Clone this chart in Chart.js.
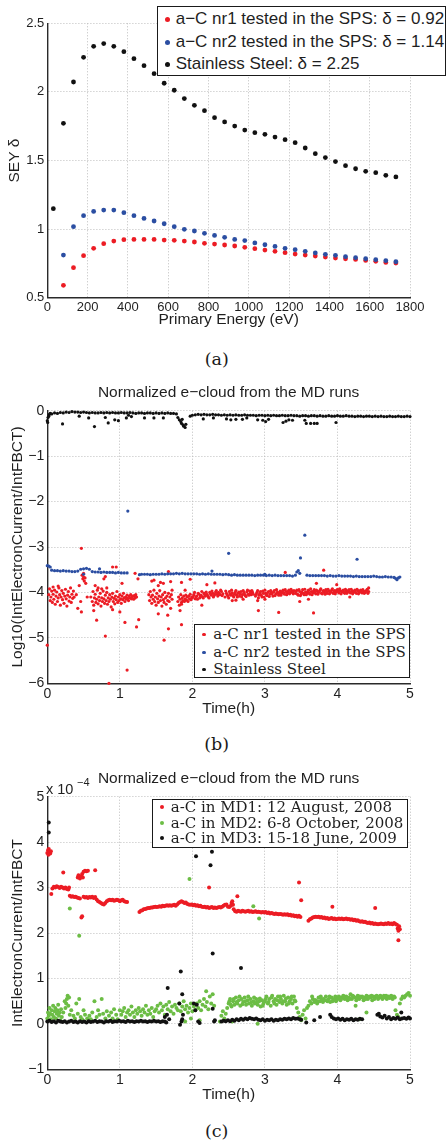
<!DOCTYPE html>
<html><head><meta charset="utf-8">
<script src="https://cdn.jsdelivr.net/npm/chart.js@4"></script>
<style>
html,body{margin:0;padding:0;background:#fff;}
body{width:446px;height:1144px;overflow:hidden;position:relative;font-family:"Liberation Sans",Arial,sans-serif;color:#1a1a1a;}
canvas{position:absolute;left:0;}
.box{position:absolute;background:#fff;border:1.5px solid #1a1a1a;box-sizing:border-box;}
.row{position:absolute;white-space:nowrap;}
.dot{position:absolute;border-radius:50%;}
.cap{position:absolute;font-family:"DejaVu Serif",serif;font-size:17.5px;line-height:17.5px;transform:translate(-50%,-50%);white-space:nowrap;}
</style></head><body>
<canvas id="ca" width="446" height="340" style="top:0px"></canvas>
<canvas id="cb" width="446" height="355" style="top:370px"></canvas>
<canvas id="cc" width="446" height="355" style="top:755px"></canvas>
<script>
// ---------- Panel (a): SEY vs primary energy ----------
const aEnergy=[30,80,130,180,230,280,330,380,430,480,530,580,630,680,730,780,830,880,930,980,1030,1080,1130,1180,1230,1280,1330,1380,1430,1480,1530,1580,1630,1680,1730];
const aNr1=[null,0.590,0.719,0.806,0.860,0.894,0.913,0.923,0.925,0.925,0.925,0.920,0.918,0.913,0.906,0.896,0.891,0.884,0.877,0.867,0.857,0.847,0.838,0.828,0.818,0.811,0.804,0.796,0.789,0.784,0.779,0.772,0.765,0.757,0.753];
const aNr2=[null,0.811,1.018,1.098,1.129,1.139,1.139,1.120,1.098,1.078,1.059,1.039,1.018,0.998,0.986,0.969,0.954,0.940,0.925,0.916,0.899,0.886,0.874,0.860,0.850,0.838,0.826,0.816,0.809,0.799,0.792,0.784,0.777,0.770,0.762];
const aSS=[1.149,1.771,2.072,2.252,2.332,2.352,2.332,2.293,2.242,2.191,2.133,2.063,2.012,1.951,1.902,1.863,1.812,1.781,1.751,1.722,1.703,1.691,1.671,1.652,1.630,1.591,1.550,1.521,1.492,1.462,1.440,1.421,1.411,1.392,1.380];
const aLabels=['a\u2212C nr1 tested in the SPS: \u03b4 = 0.92','a\u2212C nr2 tested in the SPS: \u03b4 = 1.14','Stainless Steel: \u03b4 = 2.25'];
const aXTicks=[0,200,400,600,800,1000,1200,1400,1600,1800];
const aXTickLabels=['0','200','400','600','800','1000','1200','1400','1600','1800'];
const aYTicks=[0.5,1,1.5,2,2.5];
const aYTickLabels=['0.5','1','1.5','2','2.5'];

// ---------- Panel (b): log10 normalized e-cloud ----------
const bRed=[[0.0,-5.16],[0.02,-4.05],[0.03,-3.92],[0.04,-4.18],[0.05,-4.1],[0.06,-3.97],[0.07,-4.22],[0.08,-4.04],[0.08,-3.88],[0.09,-4.15],[0.10,-3.95],[0.11,-4.26],[0.12,-4.08],[0.13,-3.99],[0.14,-4.2],[0.15,-4.12],[0.15,-3.86],[0.16,-3.9],[0.17,-4.05],[0.18,-4.28],[0.19,-4.1],[0.20,-3.96],[0.21,-4.16],[0.22,-4.02],[0.23,-4.24],[0.24,-4.08],[0.25,-3.93],[0.26,-4.14],[0.27,-4.3],[0.28,-4.06],[0.29,-3.98],[0.30,-4.19],[0.31,-4.1],[0.32,-3.9],[0.33,-4.22],[0.34,-4.04],[0.35,-4.13],[0.36,-3.97],[0.37,-4.1],
[0.40,-4.05],[0.42,-4.35],[0.44,-3.85],[0.46,-4.2],[0.47,-3.03],[0.47,-4.43],[0.48,-3.62],[0.49,-3.7],[0.50,-3.66],[0.51,-3.75],[0.50,-3.58],[0.52,-3.68],[0.53,-3.8],[0.55,-4.1],
[0.60,-4.1],[0.62,-4.2],[0.63,-3.98],[0.64,-4.28],[0.64,-4.4],[0.65,-4.12],[0.66,-4.04],[0.66,-3.85],[0.67,-4.22],[0.68,-4.15],[0.68,-4.61],[0.69,-3.95],[0.70,-4.25],[0.70,-3.9],[0.71,-4.1],[0.72,-4.18],[0.73,-4.02],[0.74,-4.3],[0.75,-4.12],[0.75,-3.92],[0.76,-4.2],[0.77,-3.97],[0.78,-4.14],[0.78,-3.7],[0.79,-4.24],[0.80,-4.06],[0.80,-3.65],[0.80,-4.96],[0.81,-4.18],[0.82,-4.0],[0.82,-3.9],[0.83,-4.26],[0.84,-4.12],[0.85,-4.2],[0.85,-6.0],[0.86,-4.05],[0.87,-4.15],[0.88,-4.32],[0.89,-4.1],[0.90,-4.02],[0.90,-3.44],[0.90,-4.38],[0.91,-4.2],[0.92,-4.13],[0.93,-4.25],[0.94,-4.08],[0.95,-4.16],[0.95,-3.44],[0.96,-3.98],[0.97,-4.22],[0.98,-4.1],[0.99,-4.18],[1.00,-4.05],[1.00,-4.43],[1.01,-4.14],[1.02,-4.24],[1.03,-4.08],[1.03,-3.8],[1.04,-4.16],[1.05,-4.02],[1.06,-4.12],[1.07,-4.2],[1.07,-4.66],[1.08,-4.1],[1.09,-4.15],[1.10,-4.06],[1.10,-5.71],[1.11,-4.13],[1.12,-4.18],[1.13,-4.08],[1.14,-4.12],[1.15,-4.05],[1.16,-4.14],[1.17,-4.1],[1.18,-4.08],[1.19,-4.15],[1.20,-4.07],[1.21,-4.12],[1.21,-3.58],[1.22,-4.05],[1.23,-4.1],[1.23,-4.76],[1.25,-3.7],[1.26,-4.6],
[1.40,-4.05],[1.41,-4.18],[1.42,-3.98],[1.43,-4.1],[1.44,-4.24],[1.44,-3.75],[1.45,-4.06],[1.46,-4.15],[1.47,-3.95],[1.47,-3.73],[1.48,-4.2],[1.49,-4.1],[1.50,-4.28],[1.51,-4.02],[1.52,-4.14],[1.53,-4.22],[1.53,-3.85],[1.53,-4.47],[1.54,-4.08],[1.55,-3.96],[1.56,-4.18],[1.56,-3.78],[1.57,-4.1],[1.58,-4.3],[1.59,-4.05],[1.60,-4.16],[1.60,-3.8],[1.61,-4.22],[1.61,-5.05],[1.62,-4.0],[1.63,-4.12],[1.64,-4.26],[1.65,-4.08],[1.66,-4.18],[1.66,-4.5],[1.67,-4.02],[1.67,-3.54],[1.67,-4.8],[1.68,-4.2],[1.69,-4.1],[1.70,-4.35],[1.70,-3.76],[1.71,-4.05],[1.72,-4.15],[1.72,-3.95],
[1.80,-4.2],[1.81,-4.1],[1.82,-4.28],[1.83,-4.15],[1.83,-4.4],[1.84,-4.05],[1.85,-4.22],[1.85,-3.78],[1.85,-4.71],[1.85,-4.26],[1.86,-4.12],[1.87,-4.18],[1.88,-4.08],[1.89,-4.2],[1.90,-4.14],[1.90,-3.95],[1.91,-4.06],[1.92,-4.17],[1.93,-4.1],[1.94,-4.2],[1.95,-4.08],[1.96,-4.14],[1.97,-4.04],[1.97,-3.71],[1.98,-4.16],[1.99,-4.1],[2.00,-4.12],[2.02,-4.05],[2.04,-4.14],[2.06,-4.08],[2.08,-4.02],[2.10,-4.12],[2.12,-4.06],[2.13,-4.28],[2.14,-4.1],[2.16,-4.02],[2.18,-4.08],[2.20,-4.04],[2.20,-3.83],[2.22,-4.1],[2.24,-4.0],[2.26,-4.06],[2.28,-4.02],[2.30,-4.07],[2.31,-3.79],[2.32,-3.99],[2.34,-4.04],[2.36,-4.0],[2.38,-4.05],[2.40,-3.98],[2.42,-4.03],
[2.01,-4.09],[2.03,-4.0],[2.05,-4.1],[2.07,-4.15],[2.09,-4.04],[2.11,-4.08],[2.13,-3.98],[2.15,-4.12],[2.17,-4.05],[2.19,-3.99],[2.21,-4.07],[2.23,-4.12],[2.25,-4.03],[2.27,-3.97],[2.29,-4.1],[2.31,-4.04],[2.33,-3.96],[2.35,-4.08],[2.37,-4.03],[2.39,-3.95],[2.41,-4.07],
[2.45,-4.1],[2.47,-4.02],[2.49,-4.08],[2.51,-3.98],[2.53,-4.06],[2.55,-4.01],[2.55,-4.18],[2.57,-4.1],[2.59,-4.0],[2.60,-4.17],[2.61,-4.06],[2.63,-4.02],[2.65,-4.08],[2.67,-3.98],[2.69,-4.05],[2.70,-4.15],[2.71,-4.0],[2.73,-4.07],[2.75,-3.99],[2.77,-4.04],[2.79,-3.97],[2.81,-4.05],[2.83,-4.0],
[2.46,-3.97],[2.48,-4.05],[2.50,-4.12],[2.52,-4.03],[2.54,-3.95],[2.56,-4.07],[2.58,-4.04],[2.60,-3.96],[2.62,-4.1],[2.64,-3.99],[2.66,-4.03],[2.68,-4.1],[2.70,-3.96],[2.72,-4.04],[2.74,-4.09],[2.76,-3.95],[2.78,-4.06],[2.80,-4.01],[2.82,-3.96],[2.84,-4.04],
[2.87,-4.08],[2.89,-4.0],[2.90,-4.18],[2.91,-4.12],[2.91,-4.4],[2.93,-4.02],[2.95,-4.06],[2.97,-3.97],[2.99,-4.1],[3.00,-4.15],[3.01,-4.02],[3.03,-4.07],[3.05,-3.98],[3.07,-4.04],[3.09,-4.0],[3.11,-4.08],[3.13,-3.96],[3.15,-4.03],[3.17,-4.0],[3.19,-4.06],[3.19,-4.44],[3.21,-3.97],[3.23,-4.02],[3.25,-3.95],[3.27,-4.04],[3.28,-3.56],[3.29,-3.98],[3.31,-4.02],[3.33,-3.95],[3.35,-4.0],[3.37,-3.97],[3.39,-4.03],
[2.88,-4.04],[2.90,-3.96],[2.92,-4.06],[2.94,-3.98],[2.96,-4.1],[2.98,-4.02],[3.00,-3.95],[3.02,-4.05],[3.04,-4.0],[3.06,-4.09],[3.08,-3.96],[3.10,-4.03],[3.12,-3.99],[3.14,-4.07],[3.16,-3.94],[3.18,-4.02],[3.20,-4.0],[3.22,-4.06],[3.24,-3.98],[3.26,-4.01],[3.28,-3.94],[3.30,-4.05],[3.32,-3.98],[3.34,-4.03],[3.36,-3.93],[3.38,-4.0],[3.40,-3.96],
[3.42,-4.02],[3.44,-3.95],[3.46,-4.06],[3.48,-3.98],[3.48,-4.2],[3.50,-4.03],[3.52,-3.94],[3.54,-4.05],[3.56,-3.99],[3.58,-4.02],[3.60,-3.95],[3.60,-4.15],[3.62,-4.04],[3.64,-3.98],[3.66,-4.01],[3.67,-4.45],[3.68,-3.94],[3.70,-4.03],[3.71,-3.8],[3.72,-3.97],[3.74,-4.0],[3.76,-3.95],[3.78,-4.02],[3.80,-3.97],[3.81,-3.51],[3.82,-4.0],[3.84,-3.94],[3.86,-4.02],[3.88,-3.97],[3.90,-3.99],[3.92,-3.95],[3.94,-4.02],[3.96,-3.96],[3.98,-3.99],[3.99,-3.83],[4.00,-3.94],[4.02,-4.01],[4.04,-3.96],[4.06,-3.99],[4.08,-3.95],[4.10,-4.02],[4.12,-3.97],[4.14,-3.99],[4.16,-3.94],[4.17,-4.1],[4.18,-4.01],[4.20,-3.97],[4.22,-3.99],[4.24,-3.95],[4.26,-4.02],[4.28,-3.96],[4.30,-4.0],[4.32,-3.95],[4.34,-4.01],[4.36,-3.97],[4.38,-4.0],[4.40,-3.96],[4.42,-4.02],[4.43,-3.98],[4.43,-3.9],
[3.43,-3.98],[3.45,-4.04],[3.47,-3.94],[3.49,-4.07],[3.51,-3.99],[3.53,-4.02],[3.55,-3.93],[3.57,-4.05],[3.59,-3.98],[3.61,-4.01],[3.63,-3.92],[3.65,-4.05],[3.67,-3.97],[3.69,-4.0],[3.71,-3.95],[3.73,-4.04],[3.75,-3.98],[3.77,-3.92],[3.79,-4.03],[3.81,-3.96],[3.83,-4.04],[3.85,-3.98],[3.87,-3.93],[3.89,-4.03],[3.91,-3.99],[3.93,-3.92],[3.95,-4.0],[3.97,-4.03],[3.99,-3.95],[4.01,-3.98],[4.03,-3.92],[4.05,-4.03],[4.07,-3.97],[4.09,-4.0],[4.11,-3.93],[4.13,-4.02],[4.15,-3.96],[4.17,-3.99],[4.19,-3.93],[4.21,-4.03],[4.23,-3.97],[4.25,-4.0],[4.27,-3.93],[4.29,-4.03],[4.31,-3.97],[4.33,-3.99],[4.35,-3.94],[4.37,-4.02],[4.39,-3.98],[4.41,-3.93]];
const bBlue=[[0.0,-3.41],[0.02,-3.42],[0.04,-3.44],[0.06,-3.51],[0.10,-3.52],[0.14,-3.52],[0.18,-3.53],[0.22,-3.52],[0.26,-3.53],[0.30,-3.53],[0.34,-3.54],[0.38,-3.54],[0.42,-3.53],[0.46,-3.49],[0.50,-3.48],[0.50,-3.6],[0.54,-3.47],[0.58,-3.49],[0.62,-3.54],[0.66,-3.55],[0.70,-3.55],[0.72,-3.48],[0.74,-3.56],[0.78,-3.55],[0.82,-3.56],[0.86,-3.56],[0.90,-3.56],[0.94,-3.57],[0.98,-3.56],[1.02,-3.57],[1.06,-3.57],[1.10,-3.57],[1.11,-2.21],
[1.27,-3.61],[1.30,-3.60],[1.34,-3.60],[1.38,-3.60],[1.42,-3.61],[1.46,-3.60],[1.50,-3.60],[1.54,-3.60],[1.58,-3.59],[1.62,-3.60],[1.66,-3.59],[1.70,-3.59],[1.74,-3.59],[1.78,-3.58],[1.82,-3.59],[1.86,-3.58],[1.90,-3.59],[1.94,-3.59],[1.98,-3.59],[2.02,-3.59],[2.06,-3.59],[2.10,-3.60],[2.14,-3.59],[2.18,-3.60],[2.22,-3.59],[2.26,-3.60],[2.27,-3.53],[2.30,-3.60],[2.34,-3.60],[2.38,-3.60],[2.42,-3.61],[2.46,-3.60],[2.50,-3.61],[2.50,-3.14],[2.54,-3.62],[2.58,-3.61],[2.62,-3.62],[2.66,-3.62],[2.70,-3.62],[2.74,-3.62],[2.78,-3.62],[2.82,-3.62],[2.86,-3.63],[2.90,-3.62],[2.94,-3.62],[2.98,-3.62],[3.00,-3.6],[3.02,-3.63],[3.06,-3.62],[3.10,-3.63],[3.14,-3.62],[3.18,-3.63],[3.22,-3.63],[3.26,-3.63],[3.30,-3.63],[3.34,-3.63],[3.38,-3.64],[3.42,-3.62],[3.44,-3.55],[3.46,-3.52],[3.48,-3.58],[3.49,-3.24],[3.55,-2.74],
[3.58,-3.62],[3.62,-3.63],[3.66,-3.63],[3.70,-3.63],[3.74,-3.63],[3.78,-3.63],[3.82,-3.63],[3.86,-3.64],[3.90,-3.63],[3.94,-3.64],[3.98,-3.64],[4.02,-3.63],[4.06,-3.64],[4.10,-3.64],[4.14,-3.64],[4.18,-3.64],[4.22,-3.65],[4.26,-3.64],[4.27,-3.27],[4.30,-3.65],[4.34,-3.65],[4.38,-3.65],[4.42,-3.65],[4.46,-3.65],[4.50,-3.64],[4.54,-3.65],[4.58,-3.66],[4.62,-3.66],[4.66,-3.65],[4.70,-3.66],[4.74,-3.66],[4.78,-3.67],[4.80,-3.69],[4.82,-3.72],[4.84,-3.68],[4.86,-3.66]];
const bBlack=[[0.0,-0.22],[0.005,-0.26],[0.01,-0.15],[0.02,-0.12],[0.03,-0.08],[0.04,-0.06],[0.06,-0.07],[0.10,-0.05],[0.14,-0.06],[0.18,-0.04],[0.21,-0.29],[0.22,-0.05],[0.26,-0.03],[0.30,-0.04],[0.34,-0.02],[0.38,-0.03],[0.42,-0.03],[0.44,-0.12],[0.46,-0.04],[0.50,-0.03],[0.54,-0.04],[0.57,-0.16],[0.58,-0.05],[0.62,-0.04],[0.65,-0.35],[0.66,-0.05],[0.70,-0.05],[0.74,-0.04],[0.78,-0.05],[0.80,-0.15],[0.82,-0.04],[0.84,-0.27],[0.86,-0.05],[0.90,-0.04],[0.93,-0.2],[0.94,-0.05],[0.98,-0.05],[0.98,-0.22],[1.02,-0.04],[1.06,-0.05],[1.09,-0.16],[1.10,-0.05],[1.12,-0.1],[1.14,-0.04],[1.16,-0.13],[1.18,-0.05],[1.22,-0.06],[1.26,-0.05],[1.30,-0.05],[1.34,-0.06],[1.34,-0.16],[1.38,-0.05],[1.42,-0.05],[1.46,-0.06],[1.47,-0.16],[1.50,-0.05],[1.54,-0.06],[1.58,-0.05],[1.60,-0.16],[1.62,-0.06],[1.66,-0.05],[1.70,-0.06],[1.74,-0.06],[1.78,-0.07],[1.80,-0.15],[1.82,-0.2],[1.84,-0.24],[1.85,-0.28],[1.86,-0.19],[1.87,-0.31],[1.88,-0.34],[1.90,-0.37],[1.91,-0.3],
[1.97,-0.12],[2.00,-0.1],[2.04,-0.09],[2.08,-0.08],[2.12,-0.09],[2.15,-0.18],[2.16,-0.08],[2.20,-0.09],[2.24,-0.09],[2.28,-0.08],[2.29,-0.16],[2.32,-0.09],[2.36,-0.09],[2.40,-0.1],[2.44,-0.09],[2.47,-0.18],[2.48,-0.1],[2.52,-0.09],[2.53,-0.2],[2.56,-0.1],[2.60,-0.09],[2.60,-0.19],[2.64,-0.1],[2.68,-0.1],[2.69,-0.19],[2.72,-0.09],[2.75,-0.16],[2.76,-0.1],[2.80,-0.1],[2.84,-0.1],[2.88,-0.11],[2.90,-0.2],[2.92,-0.1],[2.96,-0.1],[2.97,-0.21],[3.00,-0.11],[3.01,-0.24],[3.04,-0.1],[3.05,-0.19],[3.08,-0.11],[3.12,-0.1],[3.16,-0.11],[3.20,-0.11],[3.24,-0.1],[3.25,-0.26],[3.28,-0.11],[3.29,-0.23],[3.32,-0.11],[3.33,-0.2],[3.36,-0.1],[3.38,-0.21],[3.40,-0.11],[3.44,-0.11],[3.48,-0.12],[3.52,-0.11],[3.55,-0.21],[3.56,-0.11],[3.57,-0.28],[3.60,-0.12],[3.63,-0.28],[3.64,-0.11],[3.68,-0.11],[3.68,-0.28],[3.72,-0.12],[3.72,-0.28],[3.76,-0.11],[3.80,-0.12],[3.84,-0.12],[3.88,-0.11],[3.92,-0.12],[3.96,-0.12],[3.98,-0.26],[4.00,-0.11],[4.04,-0.12],[4.08,-0.12],[4.12,-0.11],[4.16,-0.12],[4.20,-0.12],[4.24,-0.13],[4.28,-0.12],[4.32,-0.12],[4.36,-0.13],[4.40,-0.12],[4.44,-0.12],[4.48,-0.13],[4.52,-0.12],[4.56,-0.13],[4.60,-0.12],[4.64,-0.13],[4.68,-0.13],[4.72,-0.12],[4.76,-0.13],[4.80,-0.13],[4.84,-0.12],[4.88,-0.13],[4.92,-0.13],[4.96,-0.12],[5.00,-0.13]];
const bLabels=['a-C nr1 tested in the SPS','a-C nr2 tested in the SPS','Stainless Steel'];
const bXTicks=[0,1,2,3,4,5];
const bXTickLabels=['0','1','2','3','4','5'];
const bYTicks=[-6,-5,-4,-3,-2,-1,0];
const bYTickLabels=['\u22126','\u22125','\u22124','\u22123','\u22122','\u22121','0'];

// ---------- Panel (c): normalized e-cloud (x 1e-4) ----------
const cRed=[[0.0,3.76],[0.01,3.82],[0.015,3.72],[0.02,3.85],[0.03,3.78],[0.04,3.75],[0.05,3.8],[0.055,2.86],[0.07,2.98],[0.09,3.02],[0.11,3.0],[0.13,3.03],[0.15,3.01],[0.17,2.99],[0.19,3.02],[0.21,3.0],[0.22,3.33],[0.23,2.98],[0.25,3.0],[0.27,2.97],[0.29,2.96],[0.30,3.0],[0.31,2.82],[0.33,2.8],[0.35,2.81],[0.37,2.79],[0.39,2.8],[0.41,2.78],[0.43,2.77],[0.45,2.76],
[0.42,3.22],[0.43,3.27],[0.44,3.24],[0.45,3.2],[0.47,3.25],[0.48,3.3],[0.49,3.22],[0.50,3.35],[0.52,3.37],[0.54,3.36],[0.56,3.37],[0.66,3.38],[0.47,2.34],[0.48,2.37],
[0.50,2.8],[0.52,2.78],[0.54,2.79],[0.56,2.77],[0.58,2.79],[0.60,2.78],[0.62,2.8],[0.64,2.77],[0.66,2.79],[0.68,2.74],[0.70,2.7],[0.72,2.68],[0.74,2.66],[0.76,2.64],[0.78,2.63],[0.80,2.66],[0.82,2.7],[0.84,2.72],[0.86,2.73],[0.88,2.72],[0.90,2.73],[0.92,2.71],[0.94,2.72],[0.96,2.73],[0.98,2.72],[1.00,2.7],[1.02,2.72],[1.04,2.73],[1.06,2.7],[1.08,2.69],[1.10,2.68],
[1.27,2.46],[1.29,2.49],[1.31,2.5],[1.33,2.52],[1.35,2.53],[1.37,2.54],[1.39,2.55],[1.41,2.55],[1.43,2.56],[1.45,2.56],[1.47,2.57],[1.49,2.58],[1.51,2.57],[1.53,2.58],[1.55,2.59],[1.57,2.58],[1.59,2.6],[1.61,2.59],[1.63,2.6],[1.65,2.61],[1.67,2.6],[1.69,2.61],[1.71,2.6],[1.73,2.61],[1.75,2.62],[1.77,2.6],[1.79,2.63],[1.81,2.66],[1.83,2.68],[1.85,2.7],[1.87,2.68],[1.89,2.66],[1.91,2.67],[1.93,2.64],[1.95,2.63],[1.97,2.62],[1.99,2.63],[2.01,2.61],[2.03,2.62],[2.05,2.6],[2.07,2.61],[2.09,2.59],[2.11,2.6],[2.13,2.58],[2.15,2.57],[2.17,2.58],[2.19,2.56],[2.21,2.57],[2.23,2.55],[2.23,3.0],[2.25,2.56],[2.27,2.57],[2.29,2.55],[2.31,2.56],[2.33,2.55],[2.35,2.56],[2.37,2.57],[2.39,2.56],[2.41,2.58],[2.43,2.6],[2.45,2.62],[2.47,2.63],[2.49,2.58],[2.51,2.57],[2.53,2.6],[2.54,2.66],[2.55,2.7],[2.56,2.62],[2.57,2.52],[2.59,2.48],[2.61,2.47],[2.62,2.81],[2.63,2.49],[2.65,2.48],[2.67,2.47],[2.69,2.49],[2.71,2.48],[2.73,2.47],[2.75,2.48],[2.77,2.49],[2.79,2.47],[2.81,2.48],[2.83,2.46],[2.85,2.47],[2.87,2.48],[2.89,2.46],[2.91,2.47],[2.93,2.46],[2.95,2.45],[2.97,2.46],[2.99,2.45],[3.01,2.46],[3.03,2.44],[3.05,2.45],[3.07,2.43],[3.09,2.44],[3.11,2.43],[3.13,2.42],[3.15,2.43],[3.17,2.42],[3.19,2.41],[3.21,2.42],[3.23,2.41],[3.25,2.4],[3.27,2.41],[3.29,2.4],[3.31,2.41],[3.33,2.39],[3.35,2.4],[3.37,2.38],[3.39,2.39],[3.41,2.37],[3.43,2.38],[3.45,2.36],[3.47,2.38],[3.47,3.11],[3.49,2.35],[3.50,2.72],
[3.60,2.27],[3.62,2.3],[3.64,2.32],[3.66,2.34],[3.68,2.35],[3.70,2.36],[3.72,2.35],[3.74,2.36],[3.76,2.34],[3.78,2.35],[3.80,2.33],[3.82,2.34],[3.84,2.32],[3.86,2.33],[3.88,2.31],[3.90,2.32],[3.92,2.33],[3.93,2.58],[3.94,2.31],[3.96,2.32],[3.98,2.3],[4.00,2.31],[4.02,2.32],[4.04,2.31],[4.06,2.32],[4.08,2.3],[4.10,2.31],[4.12,2.32],[4.14,2.3],[4.16,2.31],[4.18,2.29],[4.20,2.3],[4.22,2.28],[4.24,2.29],[4.26,2.27],[4.28,2.28],[4.30,2.26],[4.32,2.25],[4.34,2.26],[4.36,2.24],[4.38,2.25],[4.40,2.23],[4.42,2.22],[4.44,2.23],[4.46,2.21],[4.48,2.22],[4.50,2.2],[4.52,2.21],[4.52,2.55],[4.54,2.2],[4.56,2.19],[4.58,2.2],[4.60,2.21],[4.62,2.2],[4.64,2.19],[4.66,2.21],[4.68,2.2],[4.70,2.22],[4.72,2.2],[4.74,2.21],[4.76,2.19],[4.78,2.22],[4.80,2.2],[4.82,2.18],[4.83,2.1],[4.84,2.05],[4.85,2.15],[4.86,2.08],[4.84,1.84]];
const cGreen=[[0.0,0.12],[0.01,0.25],[0.02,0.18],[0.03,0.35],[0.04,0.22],[0.05,0.1],[0.06,0.3],[0.07,0.2],[0.08,0.4],[0.09,0.15],[0.10,0.28],[0.11,0.35],[0.12,0.12],[0.13,0.22],[0.14,0.3],[0.15,0.42],[0.16,0.18],[0.17,0.25],[0.18,0.08],[0.19,0.32],[0.20,0.15],[0.22,0.25],[0.24,0.5],[0.25,0.35],[0.26,0.45],[0.27,0.55],[0.28,0.62],[0.29,0.4],[0.30,0.58],[0.31,0.2],[0.31,2.54],[0.33,0.3],[0.44,1.94],
[0.36,0.18],[0.38,0.12],[0.40,0.45],[0.42,0.22],[0.44,0.55],[0.46,0.15],[0.48,0.1],[0.50,0.3],[0.52,0.2],[0.55,0.12],[0.58,0.18],[0.60,0.1],[0.62,0.25],[0.65,0.5],[0.68,0.15],[0.70,0.3],[0.72,0.2],[0.75,0.55],[0.77,0.22],[0.80,0.12],[0.82,0.28],[0.85,0.18],[0.88,0.25],[0.90,0.12],[0.92,0.32],[0.95,0.2],[0.97,0.1],[1.00,0.3],
[1.02,0.2],[1.04,0.28],[1.06,0.35],[1.08,0.15],[1.10,0.25],[1.12,0.3],[1.14,0.2],[1.16,0.38],[1.18,0.25],[1.20,0.15],[1.22,0.3],[1.24,0.22],[1.26,0.35],[1.28,0.28],[1.30,0.18],[1.32,0.32],[1.34,0.25],[1.36,0.4],[1.38,0.2],[1.40,0.3],[1.42,0.22],[1.44,0.35],[1.46,0.15],[1.48,0.28],[1.50,0.32],
[1.52,0.4],[1.54,0.25],[1.56,0.45],[1.58,0.3],[1.60,0.38],[1.62,0.2],[1.64,0.42],[1.66,0.32],[1.68,0.48],[1.70,0.28],[1.72,0.38],[1.74,0.22],[1.76,0.42],[1.78,0.35],[1.80,0.3],[1.82,0.45],[1.84,0.28],[1.86,0.38],[1.88,0.5],[1.90,0.32],[1.90,0.05],[1.92,0.4],[1.94,0.25],[1.96,0.35],[1.96,3.19],[1.98,0.45],[1.98,0.12],[2.00,0.28],[2.02,0.38],[2.04,0.3],[2.06,0.45],[2.08,0.35],[2.10,0.5],[2.10,0.08],[2.12,0.3],[2.14,0.42],[2.16,0.55],[2.18,0.38],[2.19,0.72],[2.20,0.48],[2.22,0.32],[2.24,0.6],[2.26,0.45],[2.28,0.65],[2.30,0.4],
[2.38,0.05],[2.40,0.18],[2.42,0.28],[2.44,0.12],[2.46,0.22],[2.48,0.35],
[2.50,0.45],[2.52,0.55],[2.54,0.38],[2.55,0.05],[2.56,0.5],[2.58,0.42],[2.60,0.58],[2.62,0.45],[2.64,0.52],[2.66,0.4],[2.68,0.55],[2.70,0.48],[2.72,0.58],[2.74,0.42],[2.76,0.52],[2.78,0.45],[2.80,0.55],[2.82,0.4],[2.84,0.5],[2.84,2.59],[2.86,0.45],[2.88,0.55],[2.90,0.42],[2.90,0.0],[2.92,0.5],[2.92,2.32],[2.94,0.38],[2.96,0.52],[2.98,0.45],
[3.00,0.5],[3.02,0.6],[3.04,0.45],[3.06,0.55],[3.08,0.4],[3.10,0.62],[3.12,0.5],[3.14,0.55],[3.16,0.42],[3.18,0.6],[3.20,0.48],[3.22,0.55],[3.24,0.45],[3.26,0.62],[3.28,0.5],[3.30,0.42],[3.32,0.58],[3.34,0.5],[3.36,0.55],[3.38,0.45],[3.40,0.6],[3.42,0.5],[3.44,0.35],[3.46,0.25],[3.48,0.15],[3.50,0.08],[3.52,0.2],[3.54,0.3],[3.56,0.12],[3.58,0.35],[3.60,0.4],
[3.62,0.5],[3.64,0.45],[3.66,0.55],[3.68,0.48],[3.70,0.52],[3.72,0.45],[3.74,0.58],[3.76,0.5],[3.78,0.55],[3.80,0.48],[3.82,0.52],[3.84,0.6],[3.86,0.5],[3.88,0.55],[3.90,0.48],[3.92,0.58],[3.94,0.52],[3.96,0.55],[3.98,0.5],
[4.00,0.55],[4.02,0.6],[4.04,0.52],[4.06,0.58],[4.08,0.62],[4.10,0.55],[4.12,0.6],[4.14,0.52],[4.16,0.58],[4.18,0.65],[4.20,0.55],[4.22,0.6],[4.24,0.58],[4.25,0.4],[4.26,0.52],[4.28,0.62],[4.30,0.55],[4.30,0.1],[4.32,0.58],[4.34,0.6],[4.36,0.52],[4.38,0.58],[4.40,0.62],[4.40,0.25],[4.42,0.55],[4.44,0.6],[4.46,0.58],[4.48,0.52],[4.50,0.6],[4.52,0.58],[4.54,0.62],[4.56,0.55],[4.58,0.58],[4.60,0.6],[4.62,0.55],[4.64,0.62],[4.66,0.58],[4.68,0.55],[4.70,0.6],[4.72,0.57],[4.74,0.62],[4.76,0.55],[4.78,0.6],
[2.51,0.5],[2.53,0.42],[2.57,0.55],[2.61,0.48],[2.65,0.6],[2.69,0.43],[2.73,0.5],[2.77,0.6],[2.81,0.47],[2.85,0.58],[2.89,0.48],[2.93,0.56],[2.97,0.4],[3.01,0.55],[3.05,0.48],[3.09,0.58],[3.13,0.45],[3.17,0.52],[3.21,0.6],[3.25,0.5],[3.29,0.56],[3.33,0.45],[3.37,0.6],[3.41,0.52],[3.65,0.6],[3.69,0.52],[3.73,0.5],[3.77,0.6],[3.81,0.55],[3.85,0.52],[3.89,0.6],[3.93,0.5],[3.97,0.6],[4.01,0.58],[4.05,0.55],[4.09,0.6],[4.13,0.58],[4.17,0.55],[4.21,0.62],[4.27,0.56],[4.31,0.6],[4.35,0.58],[4.39,0.55],[4.43,0.58],[4.47,0.62],[4.51,0.55],[4.55,0.6],[4.59,0.62],[4.63,0.58],[4.67,0.62],[4.71,0.58],[4.75,0.6],[4.79,0.58],
[4.80,0.3],[4.82,0.2],[4.84,0.15],[4.86,0.45],[4.88,0.55],[4.90,0.6],[4.92,0.58],[4.94,0.62],[4.96,0.65],[4.98,0.68],[5.00,0.62]];
const cBlack=[[0.02,4.43],[0.02,4.21],[0.0,0.05],[0.03,0.07],[0.06,0.04],[0.09,0.06],[0.12,0.03],[0.15,0.07],[0.18,0.05],[0.21,0.04],[0.24,0.06],[0.27,0.03],[0.30,0.05],[0.33,0.07],[0.36,0.04],[0.39,0.05],[0.42,0.03],[0.45,0.06],[0.48,0.04],[0.51,0.05],[0.54,0.03],[0.57,0.06],[0.60,0.04],[0.63,0.05],[0.66,0.07],[0.69,0.04],[0.72,0.06],[0.75,0.05],[0.78,0.03],[0.81,0.06],[0.84,0.05],[0.87,0.07],[0.90,0.04],[0.93,0.06],[0.96,0.05],[0.99,0.07],[1.02,0.05],[1.05,0.06],[1.08,0.04],[1.11,0.07],[1.14,0.05],[1.17,0.06],[1.20,0.04],[1.23,0.06],[1.26,0.05],[1.29,0.07],[1.32,0.05],[1.35,0.06],[1.38,0.04],[1.41,0.06],[1.44,0.05],[1.47,0.07],[1.50,0.05],[1.53,0.06],[1.56,0.04],[1.59,0.06],[1.62,0.05],[1.64,0.03],
[1.62,0.15],[1.65,0.2],[1.66,0.79],[1.68,0.1],[1.82,0.45],[1.84,1.15],[1.86,0.65],[1.87,0.2],[1.83,-0.02],[1.85,0.05],[1.86,0.1],[2.02,0.45],[2.04,0.3],[2.05,3.69],[2.06,0.42],[2.08,0.05],[2.10,0.02],[2.25,3.49],[2.27,3.79],[2.28,1.55],[2.28,0.33],[2.30,0.05],[2.31,0.08],
[2.40,0.05],[2.43,0.07],[2.46,0.06],[2.49,0.08],[2.52,0.06],[2.55,0.09],[2.58,0.07],[2.61,0.1],[2.64,0.08],[2.67,0.11],[2.67,1.23],[2.70,0.09],[2.73,0.12],[2.76,0.1],[2.79,0.13],[2.82,0.11],[2.85,0.1],[2.88,0.12],[2.91,0.09],[2.94,0.08],[2.97,0.1],[3.00,0.07],[3.03,0.09],[3.06,0.08],[3.09,0.1],[3.12,0.07],[3.15,0.09],[3.18,0.08],[3.21,0.1],[3.24,0.09],[3.27,0.11],[3.30,0.1],[3.33,0.12],[3.36,0.1],[3.39,0.13],[3.42,0.11],[3.45,0.12],[3.48,0.1],[3.50,0.09],
[3.57,0.03],[3.68,0.08],[3.76,0.15],
[3.90,0.2],[3.92,0.15],[3.95,0.12],[3.98,0.1],[4.01,0.12],[4.04,0.09],[4.07,0.11],[4.10,0.08],[4.13,0.1],[4.16,0.09],[4.19,0.11],[4.22,0.08],[4.25,0.1],[4.28,0.09],[4.31,0.11],[4.34,0.1],
[4.55,0.2],[4.57,0.22],[4.59,0.16],[4.62,0.14],[4.65,0.18],[4.68,0.12],[4.71,0.15],[4.74,0.1],[4.77,0.13],[4.80,0.11],[4.83,0.14],[4.86,0.1],[4.88,0.25],[4.89,0.12],[4.92,0.13],[4.95,0.11],[4.98,0.14],[5.00,0.12]];
const cLabels=['a-C in MD1: 12 August, 2008','a-C in MD2: 6-8 October, 2008','a-C in MD3: 15-18 June, 2009'];
const cXTicks=[0,1,2,3,4,5];
const cXTickLabels=['0','1','2','3','4','5'];
const cYTicks=[-1,0,1,2,3,4,5];
const cYTickLabels=['\u22121','0','1','2','3','4','5'];

const RED='#ec1c24', BLUE='#2b4ea2', BLACK='#111111', GREEN='#6cbd45';
const SANS='"Liberation Sans", Arial, sans-serif';
const SERIF='"DejaVu Serif", serif';
const TXT='#1f1f1f';

function scale(o){
  return {
    type:'linear', min:o.min, max:o.max,
    afterBuildTicks:s=>{s.ticks=o.vals.map(v=>({value:v}));},
    afterFit:s=>{ if(o.horiz) s.height=o.size; else s.width=o.size; },
    ticks:{callback:(v,i)=>o.labels[i], font:{family:SANS,size:o.fs}, color:TXT, padding:o.tp, maxRotation:0, autoSkip:false},
    grid:{color:'#bdbdbd', lineWidth:1, drawTicks:false},
    border:{display:true, color:'#2a2a2a', width:1.4, dash:[1,2]},
    title:{display:true, text:o.title, color:TXT, font:{family:SANS,size:15.5}, padding:{top:o.titlePad,bottom:o.titlePad}}
  };
}
function pts(xs,ys){return xs.map((x,i)=>({x:x,y:ys[i]}));}
function pairs(arr){return arr.map(p=>({x:p[0],y:p[1]}));}
function ds(data,color,r,order){return {data:data,backgroundColor:color,borderWidth:0,pointRadius:r,pointHoverRadius:r,clip:false,order:order};}

function make(id,datasets,opt){
  new Chart(document.getElementById(id),{
    type:'scatter',
    data:{datasets:datasets},
    options:{
      responsive:false, animation:false, devicePixelRatio:1,
      layout:{padding:{left:0,right:36,top:opt.padTop,bottom:0}},
      plugins:{legend:{display:false},tooltip:{enabled:false},
        title: opt.title ? {display:true,text:opt.title,fullSize:false,color:TXT,font:{family:SANS,size:15.5,weight:'normal'},padding:{top:opt.tTop,bottom:opt.tBot}} : {display:false}},
      scales:{x:scale(opt.x), y:scale(opt.y)}
    }
  });
}

// (a)
make('ca',[
  ds(pts(aEnergy,aNr1),RED,2.4,3),
  ds(pts(aEnergy,aNr2),BLUE,2.4,2),
  ds(pts(aEnergy,aSS),BLACK,2.4,1)
],{padTop:23.3,
  x:{min:0,max:1800,vals:aXTicks,labels:aXTickLabels,horiz:true,size:42.3,fs:13,tp:2,title:'Primary Energy (eV)',titlePad:10.7},
  y:{min:0.5,max:2.5,vals:aYTicks,labels:aYTickLabels,horiz:false,size:47.3,fs:13,tp:3,title:'SEY \u03b4',titlePad:5.7}});

// (b)
make('cb',[
  ds(pairs(bRed),RED,1.6,3),
  ds(pairs(bBlue),BLUE,1.6,2),
  ds(pairs(bBlack),BLACK,1.6,1)
],{padTop:0,title:'Normalized e\u2212cloud from the MD runs',tTop:13.4,tBot:8.7,
  x:{min:0,max:5,vals:bXTicks,labels:bXTickLabels,horiz:true,size:41.7,fs:14,tp:2,title:'Time(h)',titlePad:6.7},
  y:{min:-6,max:0,vals:bYTicks,labels:bYTickLabels,horiz:false,size:47.3,fs:14,tp:3,title:'Log10(IntElectronCurrent/IntFBCT)',titlePad:8.7}});

// (c)
make('cc',[
  ds(pairs(cRed),RED,2,3),
  ds(pairs(cGreen),GREEN,2,2),
  ds(pairs(cBlack),BLACK,2,1)
],{padTop:0,title:'Normalized e\u2212cloud from the MD runs',tTop:14.7,tBot:8.4,
  x:{min:0,max:5,vals:cXTicks,labels:cXTickLabels,horiz:true,size:40.7,fs:14,tp:2,title:'Time(h)',titlePad:5.7},
  y:{min:-1,max:5,vals:cYTicks,labels:cYTickLabels,horiz:false,size:47.3,fs:14,tp:3,title:'IntElectronCurrent/IntFBCT',titlePad:8.7}});

// ---------- HTML legends, captions, exponent ----------
function el(cls,css,text){const d=document.createElement('div');d.className=cls;Object.assign(d.style,css);if(text!==undefined)d.textContent=text;document.body.appendChild(d);return d;}
function legend(box,labels,colors,rowsY,dotX,dotD,textX,font,size,lh){
  el('box',{left:box[0]+'px',top:box[1]+'px',width:box[2]+'px',height:box[3]+'px'});
  labels.forEach((t,i)=>{
    el('dot',{left:(dotX-dotD/2)+'px',top:(rowsY[i]-dotD/2)+'px',width:dotD+'px',height:dotD+'px',background:colors[i]});
    el('row',{left:textX+'px',top:(rowsY[i]-lh/2)+'px',fontFamily:font,fontSize:size+'px',lineHeight:lh+'px',color:TXT},t);
  });
}
legend([156.7,6,289.3,70],aLabels,[RED,BLUE,BLACK],[19.3,42.3,64],167.3,5,175.7,SANS,17,20);
legend([194,624,216,53.7],bLabels,[RED,BLUE,BLACK],[634.3,652.3,669.3],204,3.2,213.3,SERIF,15,18);
legend([151.7,799,256.6,48.7],cLabels,[RED,GREEN,BLACK],[806.7,822.7,838.3],162.3,4,170.7,SERIF,15,16);

el('cap',{left:'216.7px',top:'360px'},'(a)');
el('cap',{left:'216.7px',top:'745px'},'(b)');
el('cap',{left:'216.7px',top:'1131.5px'},'(c)');
el('row',{left:'46px',top:'782px',fontSize:'14.5px',lineHeight:'14.5px',color:TXT},'x 10');
el('row',{left:'77px',top:'776.5px',fontSize:'11px',lineHeight:'11px',color:TXT},'\u22124');
</script>
</body></html>
